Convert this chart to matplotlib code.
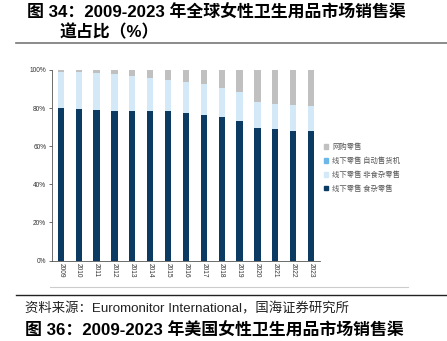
import numpy as np
import matplotlib
matplotlib.use('Agg')
import matplotlib.pyplot as plt
from matplotlib.patches import Patch
from matplotlib.lines import Line2D

plt.rcParams['font.family'] = ['Liberation Sans', 'Noto Sans CJK SC', 'DejaVu Sans']

years = [str(y) for y in range(2009, 2024)]
# shares in %
grocery = [79.9, 79.4, 79.0, 78.7, 78.7, 78.5, 78.3, 77.3, 76.4, 75.3, 73.2, 69.4, 68.9, 68.0, 67.7]
offline_top = [99.1, 98.8, 98.4, 97.7, 96.9, 96.0, 94.8, 93.7, 92.5, 90.7, 88.5, 83.1, 82.3, 81.7, 81.3]
vending = [0.1] * 15
non_grocery = [t - g - v for t, g, v in zip(offline_top, grocery, vending)]
online = [100 - t for t in offline_top]

series_labels = ['线下零售 食杂零售', '线下零售 非食杂零售', '线下零售 自动售货机', '网购零售']
colors = ['#0b3a62', '#d4e9f8', '#6db7e8', '#c0c0c0']

fig = plt.figure(figsize=(4.47, 3.41), dpi=100)
ax = fig.add_axes([0.116, 0.236, 0.6, 0.559])

x = np.arange(len(years))
w = 0.35
bottom = np.zeros(len(years))
for vals, c in zip([grocery, non_grocery, vending, online], colors):
    ax.bar(x, vals, w, bottom=bottom, color=c, linewidth=0)
    bottom += np.array(vals)

ax.set_xlim(-0.5, len(years) - 0.5)
ax.set_ylim(0, 100)
ax.set_yticks(range(0, 101, 20))
ax.set_yticklabels([f'{v}%' for v in range(0, 101, 20)])
ax.set_xticks(x)
ax.set_xticklabels(years, rotation=-90)
ax.tick_params(axis='y', labelsize=4.7, length=2.5, width=0.6, colors='#555555', labelcolor='#333333', pad=1.5)
ax.tick_params(axis='x', labelsize=4.8, length=0, labelcolor='#333333', pad=2)
for s in ['top', 'right']:
    ax.spines[s].set_visible(False)
for s in ['left', 'bottom']:
    ax.spines[s].set_color('#555555')
    ax.spines[s].set_linewidth(0.6)

handles = [Patch(color=c) for c in colors][::-1]
leg = fig.legend(handles, series_labels[::-1], loc='upper left', bbox_to_anchor=(0.71, 0.6),
                 frameon=False, fontsize=5.3, handlelength=0.6, handleheight=0.6,
                 handletextpad=0.5, labelspacing=0.8)
for t in leg.get_texts():
    t.set_color('#555555')
    t.set_family(['Noto Sans CJK SC'])

fig.text(0.06, 0.962, '图 34：2009-2023 年全球女性卫生用品市场销售渠', fontsize=12.2,
         fontweight='bold', va='center', family=['Liberation Sans', 'Noto Sans CJK SC'])
fig.text(0.133, 0.906, '道占比（%）', fontsize=12.2, fontweight='bold', va='center',
         family=['Liberation Sans', 'Noto Sans CJK SC'])
fig.add_artist(Line2D([0.036, 1.0], [0.874, 0.874], color='#777777', linewidth=1.2))

fig.add_artist(Line2D([0.112, 0.913], [0.158, 0.158], color='#cccccc', linewidth=0.8))
fig.add_artist(Line2D([0.036, 1.0], [0.135, 0.135], color='#222222', linewidth=1.0))
fig.text(0.056, 0.093, '资料来源：Euromonitor International，国海证券研究所', fontsize=9.6,
         va='center', color='#222222', family=['Liberation Sans', 'Noto Sans CJK SC'])
fig.text(0.056, 0.03, '图 36：2009-2023 年美国女性卫生用品市场销售渠', fontsize=12.2,
         fontweight='bold', va='center', family=['Liberation Sans', 'Noto Sans CJK SC'])

fig.savefig('out.png', dpi=100)
